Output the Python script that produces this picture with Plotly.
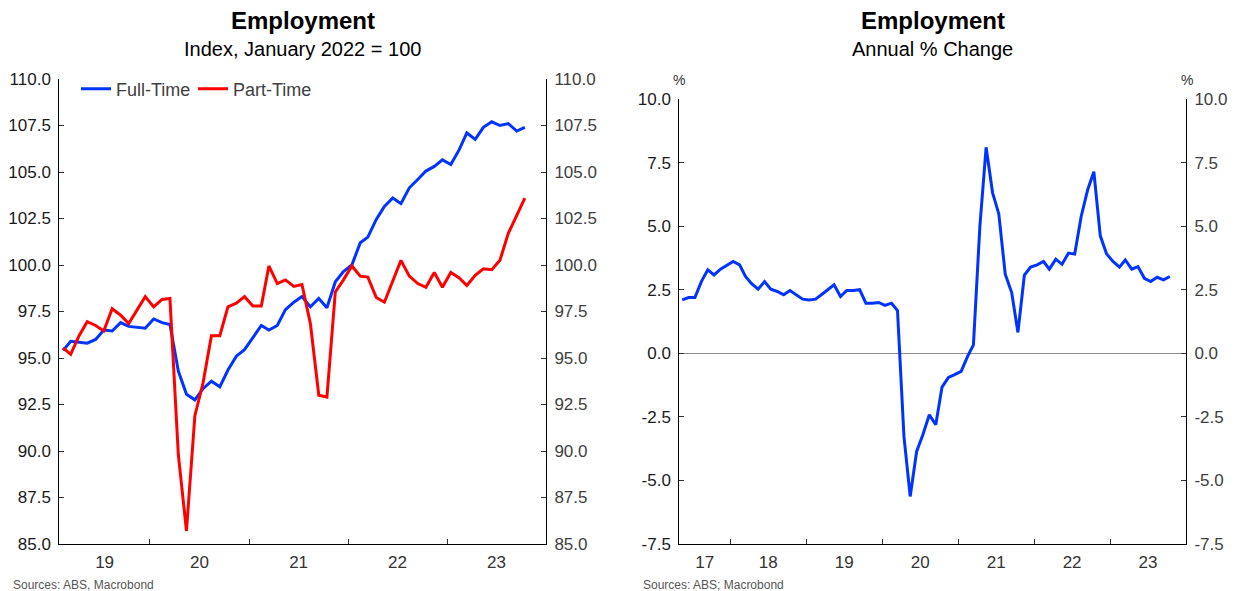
import pandas as pd
import plotly.graph_objects as go

# ---------------- data ----------------
left_start = "2019-02-01"
full_time = [95.4, 95.9, 95.85, 95.8, 96.0, 96.5, 96.45, 96.9, 96.7, 96.65,
             96.6, 97.1, 96.9, 96.8, 94.3, 93.05, 92.75, 93.35, 93.75, 93.45,
             94.35, 95.1, 95.45, 96.1, 96.75, 96.5, 96.75, 97.6, 98.0, 98.3,
             97.75, 98.2, 97.7, 99.1, 99.65, 100.0, 101.2, 101.5, 102.45, 103.15,
             103.6, 103.3, 104.15, 104.6, 105.05, 105.3, 105.65, 105.4, 106.2, 107.1,
             106.75, 107.4, 107.7, 107.5, 107.6, 107.2, 107.4]
part_time = [95.55, 95.2, 96.2, 96.95, 96.75, 96.45, 97.65, 97.3, 96.85, 97.6,
             98.3, 97.75, 98.15, 98.2, 89.8, 85.7, 91.9, 93.65, 96.2, 96.2,
             97.75, 97.95, 98.3, 97.8, 97.8, 99.95, 99.0, 99.2, 98.85, 98.95,
             96.85, 93.0, 92.9, 98.55, 99.2, 99.95, 99.4, 99.35, 98.25, 98.0,
             99.2, 100.25, 99.4, 99.0, 98.8, 99.6, 98.8, 99.6, 99.3, 98.9,
             99.45, 99.8, 99.75, 100.25, 101.7, 102.7, 103.6]

right_start = "2017-05-01"
annual_change = [2.10, 2.19, 2.19, 2.82, 3.28, 3.08, 3.31, 3.45, 3.61, 3.48,
                 3.02, 2.73, 2.52, 2.82, 2.52, 2.43, 2.30, 2.47, 2.30, 2.13,
                 2.10, 2.13, 2.30, 2.50, 2.69, 2.23, 2.47, 2.47, 2.50, 1.97,
                 1.97, 2.00, 1.88, 1.97, 1.68, -3.27, -5.63, -3.86, -3.20, -2.42,
                 -2.81, -1.33, -0.95, -0.84, -0.71, -0.12, 0.33, 4.98, 8.10, 6.32,
                 5.48, 3.11, 2.39, 0.82, 3.08, 3.39, 3.48, 3.61, 3.31, 3.70,
                 3.50, 3.94, 3.90, 5.38, 6.42, 7.14, 4.62, 3.91, 3.61, 3.39,
                 3.67, 3.31, 3.41, 2.95, 2.82, 2.99, 2.89, 3.02]

left_years = [2019, 2020, 2021, 2022, 2023]
right_years = [2017, 2018, 2019, 2020, 2021, 2022, 2023]
left_yticks = [85.0, 87.5, 90.0, 92.5, 95.0, 97.5, 100.0, 102.5, 105.0, 107.5, 110.0]
right_yticks = [-7.5, -5.0, -2.5, 0.0, 2.5, 5.0, 7.5, 10.0]

left_range = ["2019-02-01", "2024-01-01"]
right_range = ["2017-05-01", "2024-01-01"]

# ---------------- helpers ----------------
W, H = 1236, 591
FONT = "Liberation Sans, Arial, sans-serif"
BLUE = "#0033ff"
RED = "#ff0000"


def month_dates(start, n):
    return pd.date_range(start, periods=n, freq="MS") + pd.Timedelta(days=14)


def year_ticks(years, rng):
    lo, hi = pd.Timestamp(rng[0]), pd.Timestamp(rng[1])
    bounds = [pd.Timestamp(f"{y}-01-01") for y in years[1:]]
    mids, texts = [], []
    for y in years:
        a = max(pd.Timestamp(f"{y}-01-01"), lo)
        b = min(pd.Timestamp(f"{y + 1}-01-01"), hi)
        mids.append(a + (b - a) / 2)
        texts.append(f"{y % 100:02d}")
    return mids, texts, bounds


def px_x(p):
    return p / W


def px_y(p):
    return 1 - p / H


left_dates = month_dates(left_start, len(full_time))
right_dates = month_dates(right_start, len(annual_change))

lmids, ltexts, lbounds = year_ticks(left_years, left_range)
rmids, rtexts, rbounds = year_ticks(right_years, right_range)

fig = go.Figure()
fig.add_trace(go.Scatter(x=left_dates, y=full_time, name="Full-Time", mode="lines",
                         line=dict(color=BLUE, width=3), xaxis="x", yaxis="y",
                         legendwidth=72))
fig.add_trace(go.Scatter(x=left_dates, y=part_time, name="Part-Time", mode="lines",
                         line=dict(color=RED, width=3), xaxis="x", yaxis="y"))
fig.add_trace(go.Scatter(x=right_dates, y=annual_change, name="Annual % Change", mode="lines",
                         line=dict(color=BLUE, width=3), xaxis="x2", yaxis="y3",
                         showlegend=False))
# invisible companions so that the right-hand mirrored axes are drawn
fig.add_trace(go.Scatter(x=left_dates, y=full_time, mode="lines", opacity=0,
                         line=dict(width=0), xaxis="x", yaxis="y2",
                         showlegend=False, hoverinfo="skip"))
fig.add_trace(go.Scatter(x=right_dates, y=annual_change, mode="lines", opacity=0,
                         line=dict(width=0), xaxis="x2", yaxis="y4",
                         showlegend=False, hoverinfo="skip"))

tickfont_l = dict(family=FONT, size=17, color="#1a1a1a")
tickfont_r = dict(family=FONT, size=17, color="#404040")


def xaxis(domain, rng, mids, texts, bounds, anchor):
    return dict(domain=domain, range=rng, type="date", anchor=anchor,
                tickmode="array", tickvals=mids, ticktext=texts, ticks="",
                showline=True, linecolor="#000", linewidth=1, showgrid=False,
                zeroline=False, tickfont=dict(family=FONT, size=17, color="#333"),
                ticklabelstandoff=3, automargin=False,
                minor=dict(tickmode="array", tickvals=bounds, ticks="inside",
                           ticklen=5, tickcolor="#333", tickwidth=1, showgrid=False))


def yaxis(domain, rng, ticks, side, anchor, font, overlaying=None, zeroline=False):
    d = dict(range=rng, tickmode="array", tickvals=ticks,
             ticktext=[f"{v:.1f}" for v in ticks], ticks="inside", ticklen=5,
             tickcolor="#333", side=side, anchor=anchor, showline=True,
             linecolor="#000", linewidth=1, showgrid=False, tickfont=font,
             zeroline=zeroline, zerolinecolor="#8c8c8c", zerolinewidth=1,
             ticklabelstandoff=4, automargin=False)
    if overlaying:
        d["overlaying"] = overlaying
    else:
        d["domain"] = domain
    return d


ldom_x = [px_x(59.3), px_x(546)]
rdom_x = [px_x(679.3), px_x(1186)]
ldom_y = [px_y(544), px_y(79)]
rdom_y = [px_y(544), px_y(99)]

fig.update_layout(
    width=W, height=H, autosize=False,
    margin=dict(l=0, r=0, t=0, b=0, pad=0),
    paper_bgcolor="white", plot_bgcolor="white",
    font=dict(family=FONT, color="#000"),
    xaxis=xaxis(ldom_x, left_range, lmids, ltexts, lbounds, "y"),
    yaxis=yaxis(ldom_y, [85, 110], left_yticks, "left", "x", tickfont_l),
    yaxis2=yaxis(ldom_y, [85, 110], left_yticks, "right", "x", tickfont_r, overlaying="y"),
    xaxis2=xaxis(rdom_x, right_range, rmids, rtexts, rbounds, "y3"),
    yaxis3=yaxis(rdom_y, [-7.5, 10], right_yticks, "left", "x2", tickfont_l, zeroline=True),
    yaxis4=yaxis(rdom_y, [-7.5, 10], right_yticks, "right", "x2", tickfont_r, overlaying="y3"),
    showlegend=True,
    legend=dict(orientation="h", x=px_x(76), y=px_y(89), xanchor="left", yanchor="middle",
                bgcolor="rgba(0,0,0,0)", font=dict(family=FONT, size=18, color="#404040"),
                itemwidth=30, tracegroupgap=0),
)

lc = (ldom_x[0] + ldom_x[1]) / 2
rc = (rdom_x[0] + rdom_x[1]) / 2
annotations = [
    dict(text="<b>Employment</b>", x=lc, y=px_y(21), size=24, color="#000"),
    dict(text="Index, January 2022 = 100", x=lc, y=px_y(49), size=20, color="#000"),
    dict(text="<b>Employment</b>", x=rc, y=px_y(21), size=24, color="#000"),
    dict(text="Annual % Change", x=rc, y=px_y(49), size=20, color="#000"),
    dict(text="%", x=px_x(679.3), y=px_y(80), size=14, color="#333"),
    dict(text="%", x=px_x(1187), y=px_y(80), size=14, color="#333"),
]
for a in annotations:
    fig.add_annotation(text=a["text"], x=a["x"], y=a["y"], xref="paper", yref="paper",
                       xanchor="center", yanchor="middle", showarrow=False,
                       font=dict(family=FONT, size=a["size"], color=a["color"]))

for txt, xp in [("Sources: ABS, Macrobond", 11), ("Sources: ABS; Macrobond", 641)]:
    fig.add_annotation(text=txt, x=px_x(xp), y=px_y(585), xref="paper", yref="paper",
                       xanchor="left", yanchor="middle", showarrow=False,
                       font=dict(family=FONT, size=12, color="#555"))

fig.write_html("out.html", config={"displayModeBar": False},
               post_script="document.body.style.margin='0px';")
